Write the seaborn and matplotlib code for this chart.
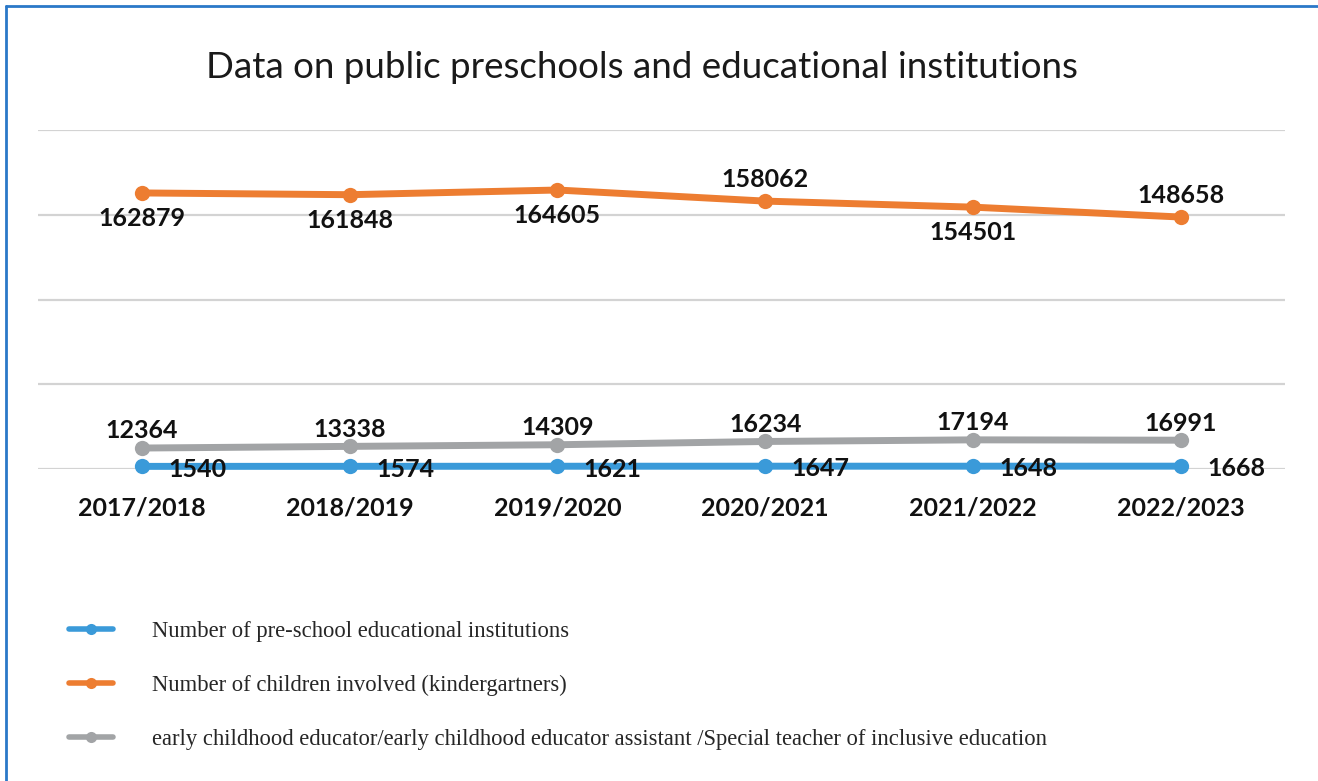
import matplotlib
matplotlib.use("Agg")
import matplotlib.pyplot as plt
from matplotlib.lines import Line2D
import seaborn as sns
import numpy as np
import pandas as pd

# ── DATA ──────────────────────────────────────────────────────────────────────
years = ["2017/2018", "2018/2019", "2019/2020", "2020/2021", "2021/2022", "2022/2023"]
institutions = [1540, 1574, 1621, 1647, 1648, 1668]
children = [162879, 161848, 164605, 158062, 154501, 148658]
educators = [12364, 13338, 14309, 16234, 17194, 16991]

lbl_inst = "Number of pre-school educational institutions"
lbl_child = "Number of children involved (kindergartners)"
lbl_edu = "early childhood educator/early childhood educator assistant /Special teacher of inclusive education"

# ── STYLE ─────────────────────────────────────────────────────────────────────
sns.set_theme(style="white")
plt.rcParams["font.family"] = ["Lato", "DejaVu Sans"]
BLUE = "#3A9AD9"
ORANGE = "#ED7D31"
GRAY = "#A2A4A6"
BORDER = "#2A78C8"

df = pd.DataFrame({"x": np.arange(len(years)), "inst": institutions,
                   "child": children, "edu": educators})

fig = plt.figure(figsize=(13.18, 7.81), dpi=100)
ax = fig.add_axes([0.0288, 0.3995, 0.946, 0.434])

for val in [0, 50000, 100000, 150000, 200000]:
    ax.axhline(val, color="#D3D3D3", lw=1.6, zorder=0)

kw = dict(marker="o", lw=5, markersize=11, markeredgewidth=0, ax=ax, clip_on=False)
sns.lineplot(data=df, x="x", y="child", color=ORANGE, **kw)
sns.lineplot(data=df, x="x", y="edu", color=GRAY, **kw)
sns.lineplot(data=df, x="x", y="inst", color=BLUE, **kw)

ax.set_xlim(-0.5, 5.5)
ax.set_ylim(0, 200000)
ax.set_xticks(df["x"])
ax.set_xticklabels(years, fontsize=18, fontweight="bold", color="#111111")
ax.tick_params(axis="x", length=0, pad=20)
ax.set_yticks([])
ax.set_xlabel("")
ax.set_ylabel("")
for s in ax.spines.values():
    s.set_visible(False)

lab = dict(fontsize=18, fontweight="bold", color="#111111", ha="center")

child_pos = ["below", "below", "below", "above", "below", "above"]
for xi, v, p in zip(df["x"], children, child_pos):
    dy = 7 if p == "above" else -10
    ax.annotate(f"{v}", (xi, v), xytext=(0, dy), textcoords="offset points",
                va="bottom" if p == "above" else "top", **lab)

for xi, v in zip(df["x"], educators):
    ax.annotate(f"{v}", (xi, v), xytext=(0, 4), textcoords="offset points",
                va="bottom", **lab)

for xi, v in zip(df["x"], institutions):
    lab_l = dict(lab, ha="left")
    ax.annotate(f"{v}", (xi, v), xytext=(19, -2), textcoords="offset points",
                va="center", **lab_l)

fig.text(0.487, 0.913, "Data on public preschools and educational institutions",
         ha="center", va="center", fontsize=26.5, color="#1a1a1a")

# legend
handles = [
    Line2D([], [], color=BLUE, lw=4, marker="o", markersize=8, markeredgewidth=0),
    Line2D([], [], color=ORANGE, lw=4, marker="o", markersize=8, markeredgewidth=0),
    Line2D([], [], color=GRAY, lw=4, marker="o", markersize=8, markeredgewidth=0),
]
fig.legend(handles, [lbl_inst, lbl_child, lbl_edu], loc="upper left",
           bbox_to_anchor=(0.037, 0.231), frameon=False, handlelength=1.95,
           handletextpad=1.7, labelspacing=1.45,
           prop={"family": "Liberation Serif", "size": 16.3})

# page border (top and left)
fig.add_artist(Line2D([0.0045, 1.0], [0.992, 0.992], color=BORDER, lw=2,
                      transform=fig.transFigure))
fig.add_artist(Line2D([0.0045, 0.0045], [0.0, 0.992], color=BORDER, lw=2,
                      transform=fig.transFigure))

fig.savefig("out.png", dpi=100)
